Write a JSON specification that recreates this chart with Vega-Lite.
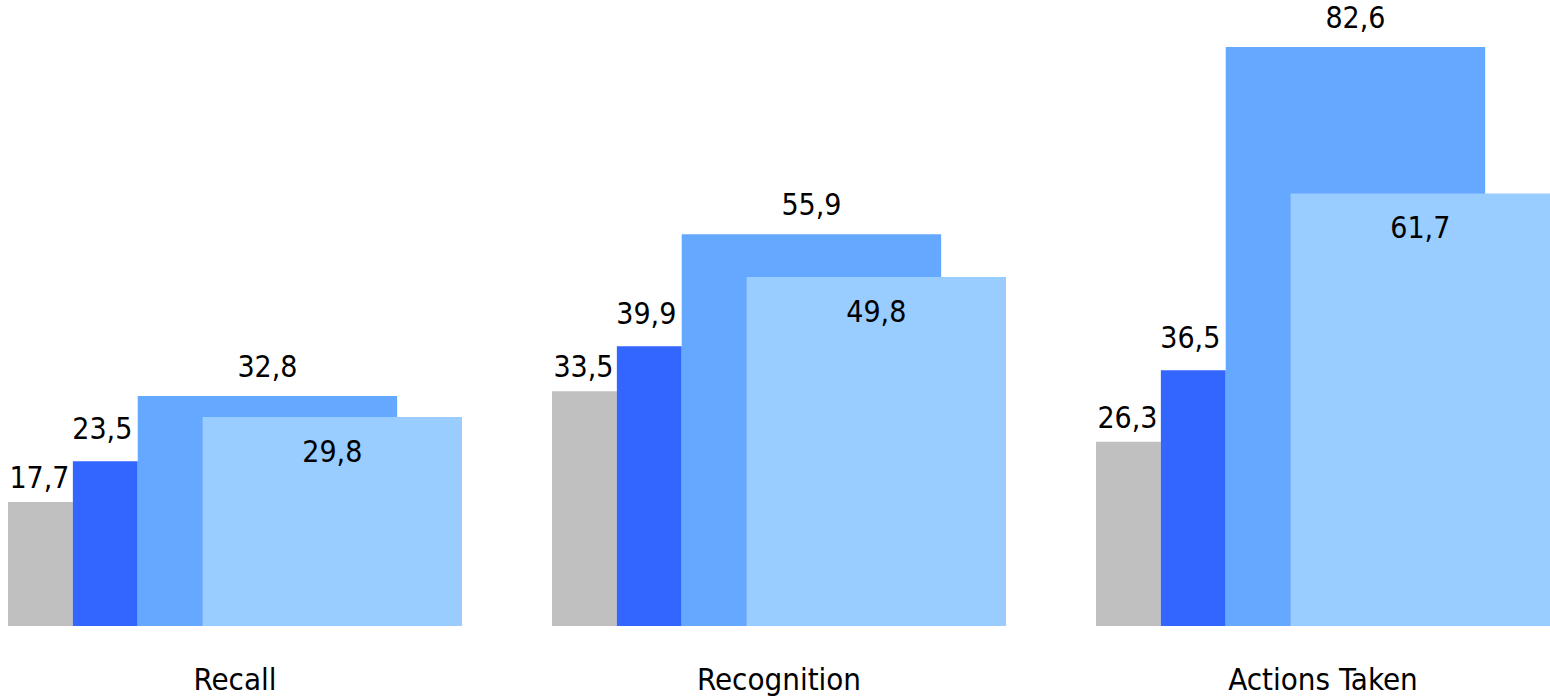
{
  "$schema": "https://vega.github.io/schema/vega-lite/v6.json",
  "padding": {"left": 8, "top": 0, "right": 0, "bottom": 0},
  "background": "white",
  "bounds": "flush",
  "data": {
    "values": [
      {"group": "Recall", "series": "Series 1", "value": 17.7},
      {"group": "Recall", "series": "Series 2", "value": 23.5},
      {"group": "Recall", "series": "Series 3", "value": 32.8},
      {"group": "Recall", "series": "Series 4", "value": 29.8},
      {"group": "Recognition", "series": "Series 1", "value": 33.5},
      {"group": "Recognition", "series": "Series 2", "value": 39.9},
      {"group": "Recognition", "series": "Series 3", "value": 55.9},
      {"group": "Recognition", "series": "Series 4", "value": 49.8},
      {"group": "Actions Taken", "series": "Series 1", "value": 26.3},
      {"group": "Actions Taken", "series": "Series 2", "value": 36.5},
      {"group": "Actions Taken", "series": "Series 3", "value": 82.6},
      {"group": "Actions Taken", "series": "Series 4", "value": 61.7}
    ]
  },
  "transform": [
    {"calculate": "indexof(['Series 1','Series 2','Series 3','Series 4'], datum.series)", "as": "i"},
    {"calculate": "datum.i", "as": "x0"},
    {"calculate": "datum.i + (datum.i < 2 ? 1 : 4)", "as": "x1"},
    {"calculate": "(datum.x0 + datum.x1) / 2", "as": "mid"},
    {"calculate": "replace(format(datum.value, '.1f'), '.', ',')", "as": "label"}
  ],
  "facet": {
    "column": {
      "field": "group",
      "type": "nominal",
      "sort": ["Recall", "Recognition", "Actions Taken"],
      "header": {
        "title": null,
        "labelOrient": "bottom",
        "labelFont": "DejaVu Sans Condensed, DejaVu Sans",
        "labelFontSize": 31,
        "labelColor": "black",
        "labelBaseline": "alphabetic",
        "labelPadding": 64
      }
    }
  },
  "spacing": 90,
  "spec": {
    "width": 454,
    "height": 626,
    "layer": [
      {
        "mark": {"type": "rect"},
        "encoding": {
          "x": {"field": "x0", "type": "quantitative", "scale": {"domain": [0, 7], "nice": false, "zero": false}, "axis": null},
          "x2": {"field": "x1"},
          "y": {"field": "value", "type": "quantitative", "scale": {"domain": [0, 89.3], "nice": false}, "axis": null},
          "y2": {"datum": 0},
          "color": {
            "field": "series",
            "type": "nominal",
            "scale": {"domain": ["Series 1", "Series 2", "Series 3", "Series 4"], "range": ["#C0C0C0", "#3366FF", "#64A8FF", "#99CCFF"]},
            "legend": null
          }
        }
      },
      {
        "transform": [{"filter": "datum.i == 0"}],
        "mark": {"type": "text", "dy": -14, "dx": -1, "baseline": "alphabetic", "fontSize": 30, "font": "DejaVu Sans Condensed, DejaVu Sans", "color": "black"},
        "encoding": {
          "x": {"field": "mid", "type": "quantitative"},
          "y": {"field": "value", "type": "quantitative"},
          "text": {"field": "label", "type": "nominal"}
        }
      },
      {
        "transform": [{"filter": "datum.i == 1"}],
        "mark": {"type": "text", "dy": -22, "dx": -3, "baseline": "alphabetic", "fontSize": 30, "font": "DejaVu Sans Condensed, DejaVu Sans", "color": "black"},
        "encoding": {
          "x": {"field": "mid", "type": "quantitative"},
          "y": {"field": "value", "type": "quantitative"},
          "text": {"field": "label", "type": "nominal"}
        }
      },
      {
        "transform": [{"filter": "datum.i == 2"}],
        "mark": {"type": "text", "dy": -19, "baseline": "alphabetic", "fontSize": 30, "font": "DejaVu Sans Condensed, DejaVu Sans", "color": "black"},
        "encoding": {
          "x": {"field": "mid", "type": "quantitative"},
          "y": {"field": "value", "type": "quantitative"},
          "text": {"field": "label", "type": "nominal"}
        }
      },
      {
        "transform": [{"filter": "datum.i == 3"}],
        "mark": {"type": "text", "dy": 45, "baseline": "alphabetic", "fontSize": 30, "font": "DejaVu Sans Condensed, DejaVu Sans", "color": "black"},
        "encoding": {
          "x": {"field": "mid", "type": "quantitative"},
          "y": {"field": "value", "type": "quantitative"},
          "text": {"field": "label", "type": "nominal"}
        }
      }
    ]
  },
  "config": {"view": {"stroke": null}}
}
